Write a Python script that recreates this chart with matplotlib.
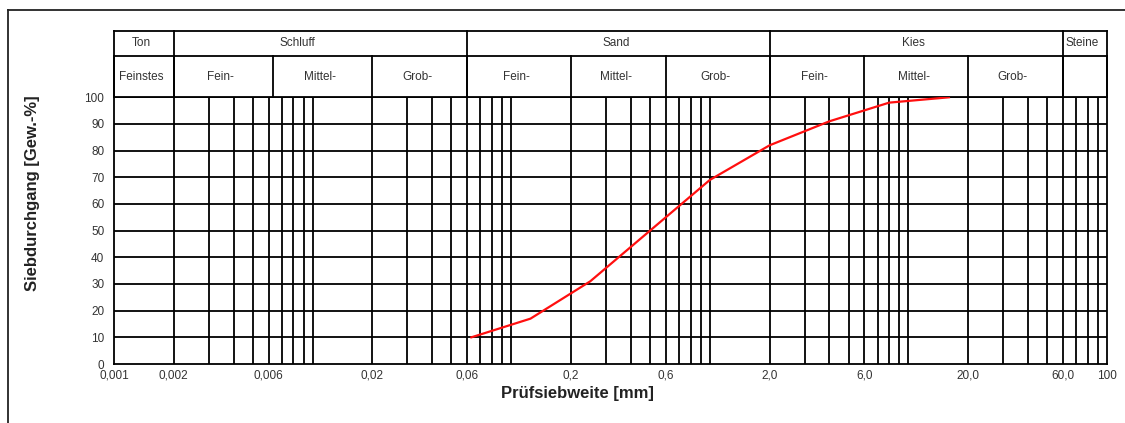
"""
Sieblinie (Korngrößenverteilung) nach DIN 18123.
Saves out.png (1125x423 px).
"""

import matplotlib

matplotlib.use("Agg")
import matplotlib.pyplot as plt
import numpy as np
from matplotlib.lines import Line2D

plt.rcParams["font.family"] = ["Liberation Sans", "DejaVu Sans"]

# Messwerte: Siebweite [mm] und Siebdurchgang [Gew.-%]
sieve_mm = [0.063, 0.125, 0.25, 0.5, 1.0, 2.0, 4.0, 8.0, 16.0]
passing = [10, 17, 31, 50, 69, 82, 91, 98, 100]

# Achsenbeschriftung
x_ticks = [0.001, 0.002, 0.006, 0.02, 0.06, 0.2, 0.6, 2.0, 6.0, 20.0, 60.0, 100]
x_tick_labels = ["0,001", "0,002", "0,006", "0,02", "0,06", "0,2", "0,6",
                 "2,0", "6,0", "20,0", "60,0", "100"]
y_ticks = [0, 10, 20, 30, 40, 50, 60, 70, 80, 90, 100]

# Kopfzeile: Bodenarten (obere Zeile) und Unterteilung (untere Zeile)
main_bounds = [0.001, 0.002, 0.06, 2.0, 60.0, 100]
main_labels = ["Ton", "Schluff", "Sand", "Kies", "Steine"]
sub_bounds = [0.001, 0.002, 0.0063, 0.02, 0.06, 0.2, 0.6, 2.0, 6.0, 20.0, 60.0, 100]
sub_labels = ["Feinstes", "Fein-", "Mittel-", "Grob-", "Fein-", "Mittel-", "Grob-",
              "Fein-", "Mittel-", "Grob-", ""]


def log_mid(a, b):
    return 10 ** ((np.log10(a) + np.log10(b)) / 2)


fig = plt.figure(figsize=(11.25, 4.23), dpi=100)
ax = fig.add_axes([114 / 1125, 1 - 364 / 423, 993 / 1125, 266.7 / 423])

ax.set_xscale("log")
ax.set_xlim(0.001, 100)
ax.set_ylim(0, 100)

# Raster: alle Dekaden-Unterteilungen 1..9
grid_x = [m * 10.0 ** e for e in range(-3, 2) for m in range(1, 10)][1:]
lw = 1.3
ax.vlines(grid_x, 0, 100, colors="black", linewidth=lw, zorder=1)
ax.hlines(y_ticks[1:], 0.001, 100, colors="black", linewidth=lw, zorder=1)
for sp in ax.spines.values():
    sp.set_linewidth(lw)

ax.plot(sieve_mm, passing, color="#ff0f0f", linewidth=1.6, zorder=3)

ax.set_xticks(x_ticks)
ax.set_xticklabels(x_tick_labels)
ax.xaxis.set_minor_locator(matplotlib.ticker.NullLocator())
ax.set_yticks(y_ticks)
ax.tick_params(axis="x", length=0, pad=4, labelsize=8.5, colors="#333333")
ax.tick_params(axis="y", length=0, pad=7, labelsize=8.5, colors="#333333")

# Kopfzeile oberhalb des Diagramms (in Datenkoordinaten, ohne Clipping)
y_mid, y_top = 115.5, 125.0
hdr = dict(color="black", linewidth=lw, clip_on=False)
ax.plot([0.001, 100], [y_top, y_top], **hdr)
ax.plot([0.001, 100], [y_mid, y_mid], **hdr)
for b in main_bounds:
    ax.plot([b, b], [100, y_top], **hdr)
for b in sub_bounds:
    ax.plot([b, b], [100, y_mid], **hdr)

txt = dict(ha="center", va="center", fontsize=8.5, color="#333333")
for i, lab in enumerate(main_labels):
    xc = log_mid(main_bounds[i], main_bounds[i + 1])
    if lab == "Schluff":
        xc *= 0.79
    ax.text(xc * 0.97, (y_mid + y_top) / 2, lab, **txt)
for i, lab in enumerate(sub_labels):
    xc = log_mid(sub_bounds[i], sub_bounds[i + 1])
    ax.text(xc * 0.97, (100 + y_mid) / 2, lab, **txt)

fig.text(577 / 1125, 1 - 393 / 423, "Prüfsiebweite [mm]", ha="center", va="center",
         fontsize=12, fontweight="bold", color="#222222")
fig.text(33 / 1125, 1 - 193 / 423, "Siebdurchgang [Gew.-%]", ha="center", va="center",
         rotation=90, fontsize=12, fontweight="bold", color="#222222")

# Rahmen (rechts und unten abgeschnitten)
fx, fy = 8 / 1125, 1 - 10 / 423
fig.add_artist(Line2D([fx, 1.0], [fy, fy], color="#222222", linewidth=1.3))
fig.add_artist(Line2D([fx, fx], [fy, 0.0], color="#222222", linewidth=1.3))

fig.savefig("out.png", dpi=100)
